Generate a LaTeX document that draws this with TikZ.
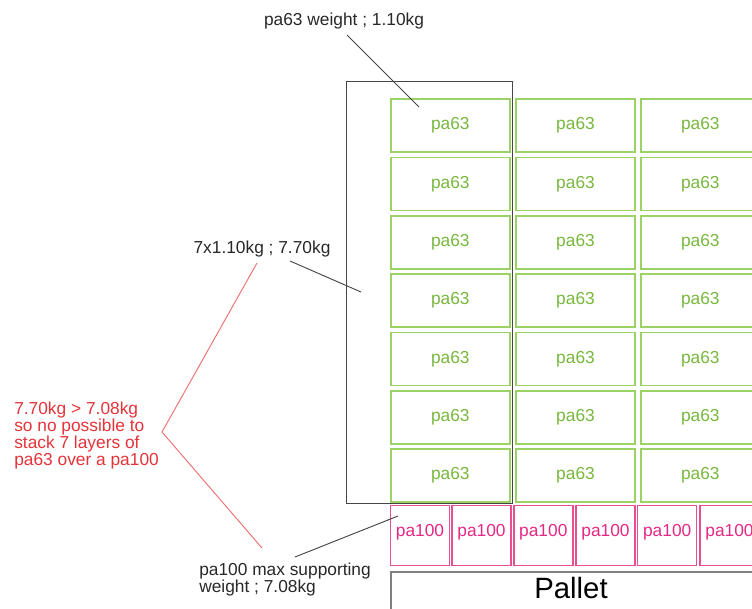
\documentclass[tikz,border=0pt]{standalone}
\usepackage{fontspec}
\setmainfont{Liberation Sans}
\usetikzlibrary{calc}

\definecolor{boxgreen}{RGB}{156,210,100}
\definecolor{txtgreen}{RGB}{120,184,62}
\definecolor{boxpink}{RGB}{232,78,146}
\definecolor{txtpink}{RGB}{228,40,132}
\definecolor{notered}{RGB}{228,52,58}
\definecolor{bracketred}{RGB}{238,112,112}
\definecolor{leadgray}{RGB}{70,70,70}
\definecolor{labelgray}{RGB}{40,40,40}
\definecolor{palletgray}{RGB}{128,128,128}

\tikzset{
	every node/.style={font=\fontsize{13}{12.75}\selectfont},
	pasmall/.style={draw=boxgreen, line width=1.1pt, text=txtgreen, minimum width=89.25pt, minimum height=39.75pt, inner sep=0pt},
	pabig/.style={draw=boxpink, line width=1.1pt, text=txtpink, minimum width=44.25pt, minimum height=45pt, inner sep=0pt, text height=9.3pt, text depth=7.2pt},
	leader/.style={draw=leadgray, line width=0.7pt},
	bracket/.style={draw=bracketred, line width=0.7pt},
	note/.style={inner sep=0pt, align=left, anchor=north west},
}

\begin{document}
\begin{tikzpicture}[x=0.75pt, y=-0.75pt]
		%%%%% START %%%%%
		\useasboundingbox[fill=white] (0, 0) rectangle (752, 608);
		
		% stacked pa63 boxes, seven layers
		\node[pasmall] (pa63-1-1) at (450.3, 125.6) {pa63};
		\node[pasmall] (pa63-1-2) at (575.5, 125.6) {pa63};
		\node[pasmall] (pa63-1-3) at (700.3, 125.6) {pa63};
		\node[pasmall] (pa63-2-1) at (450.3, 183.9) {pa63};
		\node[pasmall] (pa63-2-2) at (575.5, 183.9) {pa63};
		\node[pasmall] (pa63-2-3) at (700.3, 183.9) {pa63};
		\node[pasmall] (pa63-3-1) at (450.3, 242.3) {pa63};
		\node[pasmall] (pa63-3-2) at (575.5, 242.3) {pa63};
		\node[pasmall] (pa63-3-3) at (700.3, 242.3) {pa63};
		\node[pasmall] (pa63-4-1) at (450.3, 300.6) {pa63};
		\node[pasmall] (pa63-4-2) at (575.5, 300.6) {pa63};
		\node[pasmall] (pa63-4-3) at (700.3, 300.6) {pa63};
		\node[pasmall] (pa63-5-1) at (450.3, 358.9) {pa63};
		\node[pasmall] (pa63-5-2) at (575.5, 358.9) {pa63};
		\node[pasmall] (pa63-5-3) at (700.3, 358.9) {pa63};
		\node[pasmall] (pa63-6-1) at (450.3, 417.3) {pa63};
		\node[pasmall] (pa63-6-2) at (575.5, 417.3) {pa63};
		\node[pasmall] (pa63-6-3) at (700.3, 417.3) {pa63};
		\node[pasmall] (pa63-7-1) at (450.3, 475.6) {pa63};
		\node[pasmall] (pa63-7-2) at (575.5, 475.6) {pa63};
		\node[pasmall] (pa63-7-3) at (700.3, 475.6) {pa63};
		
		% pa100 row
		\node[pabig] (pa100-1) at (420.0, 535.3) {pa100};
		\node[pabig] (pa100-2) at (481.5, 535.3) {pa100};
		\node[pabig] (pa100-3) at (543.3, 535.3) {pa100};
		\node[pabig] (pa100-4) at (605.5, 535.3) {pa100};
		\node[pabig] (pa100-5) at (667.2, 535.3) {pa100};
		\node[pabig] (pa100-6) at (729.5, 535.3) {pa100};
		
		% pallet
		\draw[draw=palletgray, line width=1.5pt] (390.5, 571.5) rectangle (756, 620);
		\node[font=\fontsize{22}{26}\selectfont] (pallet) at (571, 588) {Pallet};
		
		% one column of seven layers
		\draw[draw=leadgray, line width=0.75pt] (346, 81.5) rectangle (512.5, 503.5);
		
		% labels
		\node[anchor=base, text=labelgray] (wtLbl) at (344, 25) {pa63 weight ; 1.10kg};
		\node[anchor=base, text=labelgray] (stackLbl) at (262, 253.3) {7x1.10kg ; 7.70kg};
		\node[note, text=notered] (redNote) at (14, 401.4) {7.70kg > 7.08kg\\so no possible to\\stack 7 layers of\\pa63 over a pa100};
		\node[note, text=labelgray] (supLbl) at (199, 562.6) {pa100 max supporting\\weight ; 7.08kg};
		
		% leader lines
		\coordinate (wtFrom) at (347, 35);
		\coordinate (wtTo) at (419, 107);
		\coordinate (stackFrom) at (290, 261);
		\coordinate (stackTo) at (361, 292);
		\coordinate (supFrom) at (295, 557);
		\coordinate (supTo) at (398, 516);
		\draw[leader] (wtFrom) -- (wtTo);
		\draw[leader] (stackFrom) -- (stackTo);
		\draw[leader] (supFrom) -- (supTo);
		
		% bracket round the red note
		\coordinate (brTop) at (257, 263);
		\coordinate (brMid) at (162, 432);
		\coordinate (brBot) at (262, 548);
		\draw[bracket] (brTop) -- (brMid) -- (brBot);
		
		%%%%% END %%%%%
	\end{tikzpicture}
\end{document}
